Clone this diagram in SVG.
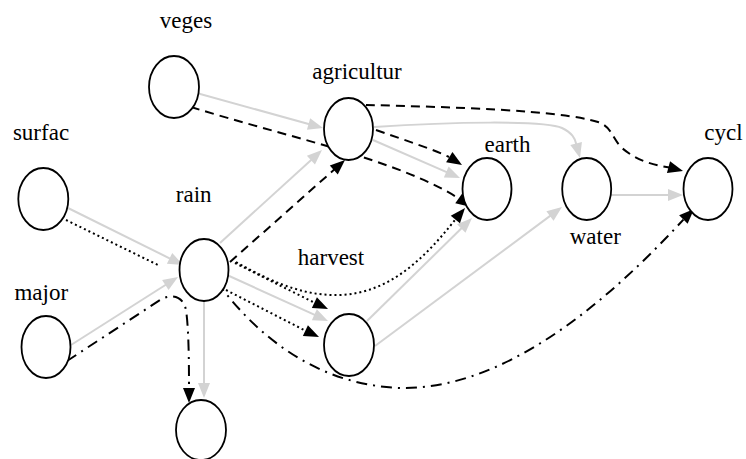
<svg xmlns="http://www.w3.org/2000/svg" xmlns:xlink="http://www.w3.org/1999/xlink" width="746" height="459" viewBox="0 0 746 459">
  <style>
    .node ellipse { fill: #ffffff; stroke: #000000; stroke-width: 1.8; }
    text { font-family: 'Liberation Serif', 'Times New Roman', serif; font-size: 23px; fill: #000000; text-anchor: middle; }
    .e { fill: none; stroke-linecap: butt; }
    .gray { stroke: #d3d3d3; stroke-width: 2; }
    .dash { stroke: #000000; stroke-width: 2; stroke-dasharray: 9 6; }
    .dot { stroke: #000000; stroke-width: 2; stroke-dasharray: 2 3; }
    .dashdot { stroke: #000000; stroke-width: 2; stroke-dasharray: 11 6 2 6; }
    .ag { fill: #d3d3d3; }
    .ab { fill: #000000; }
  </style>
  <defs>
    <!-- arrowhead with its tip at the origin, pointing along +x -->
    <polygon id="ah" points="0,0 -15,-6 -15,6"/>
  </defs>
  <rect width="746" height="459" fill="#ffffff"/>

  <g id="connectors">
    <!-- light grey solid edges -->
    <path class="e gray" d="M193,92 L309.5,124.3"/>
    <use xlink:href="#ah" class="ag" transform="translate(323,128) rotate(15.5)"/>
    <path class="e gray" d="M68,208 L170.5,258.8"/>
    <use xlink:href="#ah" class="ag" transform="translate(183,265) rotate(26.4)"/>
    <path class="e gray" d="M71,345 L166.2,284.5"/>
    <use xlink:href="#ah" class="ag" transform="translate(178,277) rotate(-32.4)"/>
    <path class="e gray" d="M220,243 L311.7,159.4"/>
    <use xlink:href="#ah" class="ag" transform="translate(322,150) rotate(-42.4)"/>
    <path class="e gray" d="M227,275 L315.3,315.2"/>
    <use xlink:href="#ah" class="ag" transform="translate(328,321) rotate(24.5)"/>
    <path class="e gray" d="M204,301 L204,384"/>
    <use xlink:href="#ah" class="ag" transform="translate(204,398) rotate(90)"/>
    <path class="e gray" d="M373,140 L447.2,172.4"/>
    <use xlink:href="#ah" class="ag" transform="translate(460,178) rotate(23.6)"/>
    <path class="e gray" d="M374,127 C450,122 545,120 562,128 C572,133 575,138 576.4,144.5"/>
    <use xlink:href="#ah" class="ag" transform="translate(580,158) rotate(75)"/>
    <path class="e gray" d="M367,321 L462,227.8"/>
    <use xlink:href="#ah" class="ag" transform="translate(472,218) rotate(-44.5)"/>
    <path class="e gray" d="M375,346 L550.8,215.4"/>
    <use xlink:href="#ah" class="ag" transform="translate(562,207) rotate(-36.6)"/>
    <path class="e gray" d="M611.5,195 L669,195"/>
    <use xlink:href="#ah" class="ag" transform="translate(683,195)"/>

    <!-- dashed edges -->
    <path class="e dash" d="M191,107 C280,135 400,160 459.5,199"/>
    <use xlink:href="#ah" class="ab" transform="translate(471,207) rotate(35)"/>
    <path class="e dash" d="M376,130 C410,142 435,150 449,157"/>
    <use xlink:href="#ah" class="ab" transform="translate(462,165) rotate(32)"/>
    <path class="e dash" d="M230,262 L334.5,169.3"/>
    <use xlink:href="#ah" class="ab" transform="translate(345,160) rotate(-41.6)"/>
    <path class="e dash" d="M366,105 C450,107 560,110 598,122 C612,127 612,138 622,148 C636,160 652,165 669.5,167.4"/>
    <use xlink:href="#ah" class="ab" transform="translate(683,171) rotate(15)"/>

    <!-- dotted edges -->
    <path class="e dot" d="M66,220 L160,266"/>
    <path class="e dot" d="M236,262 C280,287 310,296 340,295 C390,293 425,258 456,218.7"/>
    <use xlink:href="#ah" class="ab" transform="translate(465,208) rotate(-50)"/>
    <path class="e dot" d="M235,263 L314.4,302.7"/>
    <use xlink:href="#ah" class="ab" transform="translate(328,309) rotate(25)"/>
    <path class="e dot" d="M226,290 L305.4,330.7"/>
    <use xlink:href="#ah" class="ab" transform="translate(319,337) rotate(25)"/>

    <!-- dash-dot edges -->
    <path class="e dashdot" d="M67,361 L160,300 C172,293 183,296 186,310 C189,330 189,370 189,389"/>
    <use xlink:href="#ah" class="ab" transform="translate(189,403) rotate(90)"/>
    <path class="e dashdot" d="M217,282 C260,340 320,385 400,388 C500,390 600,310 683.4,219.6"/>
    <use xlink:href="#ah" class="ab" transform="translate(694,209) rotate(-45)"/>
  </g>

  <g id="veges" class="node"><ellipse cx="174" cy="87" rx="25" ry="31"/><text x="186" y="27.5">veges</text></g>
  <g id="agricultur" class="node"><ellipse cx="348.5" cy="129" rx="24.5" ry="31"/><text x="357" y="79">agricultur</text></g>
  <g id="earth" class="node"><ellipse cx="487" cy="189" rx="24.5" ry="31"/><text x="507.5" y="152">earth</text></g>
  <g id="water" class="node"><ellipse cx="586.7" cy="189" rx="24.5" ry="31"/><text x="595.3" y="243.5">water</text></g>
  <g id="cycl" class="node"><ellipse cx="708" cy="189" rx="24.5" ry="31"/><text x="723.5" y="140">cycl</text></g>
  <g id="surfac" class="node"><ellipse cx="43.3" cy="199" rx="25" ry="31"/><text x="41" y="139.5">surfac</text></g>
  <g id="rain" class="node"><ellipse cx="204" cy="270" rx="24.5" ry="31"/><text x="193.7" y="201.5">rain</text></g>
  <g id="harvest" class="node"><ellipse cx="349" cy="345" rx="25" ry="31"/><text x="331" y="265">harvest</text></g>
  <g id="major" class="node"><ellipse cx="46" cy="347" rx="24.5" ry="31"/><text x="41.3" y="300">major</text></g>
  <g id="sink" class="node"><ellipse cx="201" cy="430" rx="25" ry="30"/></g>
</svg>
